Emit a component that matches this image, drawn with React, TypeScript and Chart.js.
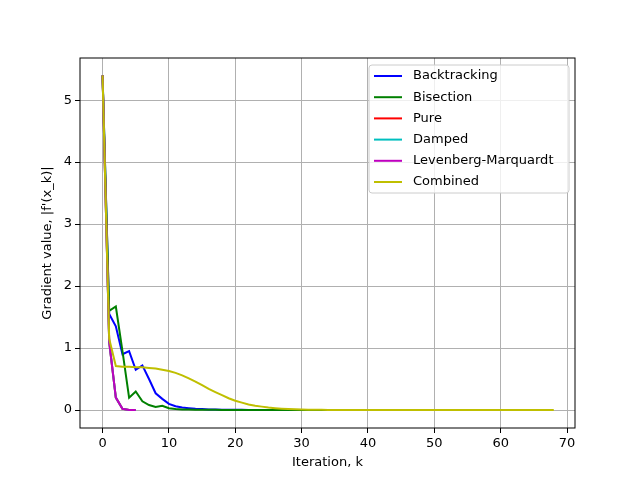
import { useEffect, useRef } from "react";
import { Chart, registerables } from "chart.js";

Chart.register(...registerables);

const backtracking = [5.4, 1.55, 1.35, 0.9, 0.95, 0.65, 0.72, 0.5, 0.27, 0.18, 0.1, 0.06, 0.04, 0.03, 0.02, 0.015, 0.01, 0.008, 0.006, 0.005, 0.004, 0.003, 0.002, 0.002, 0.001, 0.001, 0, 0, 0, 0, 0];
const bisection = [5.4, 1.6, 1.67, 0.95, 0.2, 0.3, 0.14, 0.08, 0.05, 0.07, 0.03, 0.015, 0.01, 0.008, 0.006, 0.005, 0.004, 0.003, 0.002, 0.002, 0.001, 0.001, 0.001, 0, 0, 0, 0, 0, 0, 0, 0, 0, 0, 0, 0, 0, 0, 0, 0, 0, 0, 0, 0];
const pure = [5.4, 1.1, 0.2, 0.02, 0, 0];
const damped = [5.4, 1.1, 0.2, 0.02, 0, 0];
const levenbergMarquardt = [5.4, 1.1, 0.2, 0.02, 0, 0];
const combined = [5.4, 1.15, 0.71, 0.7, 0.7, 0.69, 0.69, 0.68, 0.67, 0.65, 0.63, 0.6, 0.56, 0.51, 0.46, 0.4, 0.34, 0.29, 0.24, 0.19, 0.15, 0.12, 0.09, 0.07, 0.055, 0.04, 0.03, 0.022, 0.016, 0.012, 0.008, 0.006, 0.004, 0.003, 0.002, 0.001, 0, 0, 0, 0, 0, 0, 0, 0, 0, 0, 0, 0, 0, 0, 0, 0, 0, 0, 0, 0, 0, 0, 0, 0, 0, 0, 0, 0, 0, 0, 0, 0, 0];

const seriesNames = ["Backtracking", "Bisection", "Pure", "Damped", "Levenberg-Marquardt", "Combined"];
const seriesValues = [backtracking, bisection, pure, damped, levenbergMarquardt, combined];
const seriesColors = ["#0000ff", "#008000", "#ff0000", "#00bfbf", "#bf00bf", "#bfbf00"];

const font = "DejaVu Sans";

const framePlugin = {
  id: "frame",
  afterDraw(chart: any) {
    const { ctx, chartArea: a } = chart;
    ctx.save();
    ctx.strokeStyle = "#000";
    ctx.lineWidth = 1;
    ctx.strokeRect(a.left, a.top, a.right - a.left, a.bottom - a.top);
    // legend box
    const w = 200, h = 128, x = a.right - w - 6, y = a.top + 7;
    ctx.fillStyle = "rgba(255,255,255,0.8)";
    ctx.strokeStyle = "#cccccc";
    ctx.beginPath();
    ctx.roundRect(x, y, w, h, 3);
    ctx.fill();
    ctx.stroke();
    ctx.font = `13px '${font}'`;
    ctx.textBaseline = "middle";
    seriesNames.forEach((n, i) => {
      const ly = y + 11 + i * 21.2;
      ctx.strokeStyle = seriesColors[i];
      ctx.lineWidth = 2;
      ctx.beginPath();
      ctx.moveTo(x + 5, ly);
      ctx.lineTo(x + 33, ly);
      ctx.stroke();
      ctx.fillStyle = "#000";
      ctx.fillText(n, x + 44, ly);
    });
    ctx.restore();
  },
};

export default function App() {
  const canvasRef = useRef<HTMLCanvasElement>(null);

  useEffect(() => {
    document.body.style.margin = "0";
    if (!canvasRef.current) return;
    const chart = new Chart(canvasRef.current, {
      type: "line",
      data: {
        datasets: seriesNames.map((name, i) => ({
          label: name,
          data: seriesValues[i].map((v, k) => ({ x: k, y: v })),
          borderColor: seriesColors[i],
          borderWidth: 2,
          pointRadius: 0,
          tension: 0,
          order: seriesNames.length - i,
        })),
      },
      options: {
        animation: false,
        responsive: false,
        layout: { padding: { top: 58, right: 65, left: 0, bottom: 0 } },
        plugins: { legend: { display: false }, tooltip: { enabled: false } },
        scales: {
          x: {
            type: "linear",
            min: -3.4,
            max: 71.2,
            afterBuildTicks: (s: any) => {
              s.ticks = [0, 10, 20, 30, 40, 50, 60, 70].map((v) => ({ value: v }));
            },
            afterFit: (s: any) => { s.height = 52; },
            grid: { color: "#b0b0b0", tickColor: "#000", tickLength: 5 },
            border: { display: false },
            ticks: { color: "#000", font: { family: font, size: 13 }, maxRotation: 0 },
            title: { display: true, text: "Iteration, k", color: "#000", font: { family: font, size: 13 }, padding: { top: 0, bottom: 10 } },
          },
          y: {
            min: -0.29,
            max: 5.68,
            afterBuildTicks: (s: any) => {
              s.ticks = [0, 1, 2, 3, 4, 5].map((v) => ({ value: v }));
            },
            afterFit: (s: any) => { s.width = 80; },
            grid: { color: "#b0b0b0", tickColor: "#000", tickLength: 5 },
            border: { display: false },
            ticks: { color: "#000", font: { family: font, size: 13 } },
            title: { display: true, text: "Gradient value, |f'(x_k)|", color: "#000", font: { family: font, size: 13 }, padding: { top: 40, bottom: 0 } },
          },
        },
      },
      plugins: [framePlugin],
    });
    return () => chart.destroy();
  }, []);

  return <canvas ref={canvasRef} width={640} height={480} style={{ display: "block" }} />;
}
